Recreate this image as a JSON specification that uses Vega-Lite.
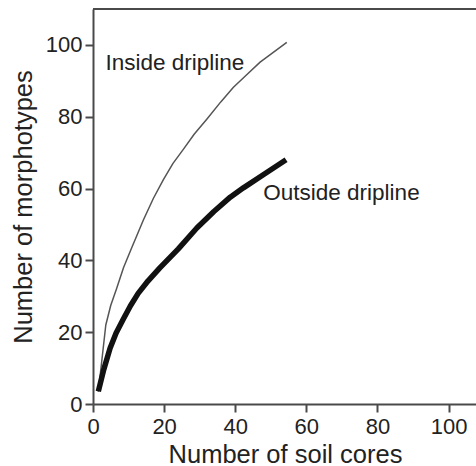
{
  "$schema": "https://vega.github.io/schema/vega-lite/v6.json",
  "width": 384,
  "height": 395,
  "autosize": {"type": "none"},
  "padding": {"left": 93, "top": 9, "right": 0, "bottom": 62},
  "background": "white",
  "config": {
    "view": {"stroke": null},
    "font": "Liberation Sans",
    "axis": {
      "grid": false,
      "domainColor": "#4a4a4a",
      "domainWidth": 2,
      "tickColor": "#4a4a4a",
      "tickWidth": 2,
      "tickSize": 8,
      "labelColor": "#222222",
      "titleColor": "#222222",
      "labelFont": "Liberation Sans",
      "titleFont": "Liberation Sans",
      "labelFontSize": 22,
      "titleFontSize": 25.5,
      "titleFontWeight": "normal"
    }
  },
  "datasets": {
    "curves": [
      {"cores": 1.5, "morphotypes": 3.4, "site": "Inside dripline"},
      {"cores": 3.6, "morphotypes": 22, "site": "Inside dripline"},
      {"cores": 5, "morphotypes": 27.5, "site": "Inside dripline"},
      {"cores": 6.6, "morphotypes": 32, "site": "Inside dripline"},
      {"cores": 8.6, "morphotypes": 38, "site": "Inside dripline"},
      {"cores": 10.8, "morphotypes": 43.3, "site": "Inside dripline"},
      {"cores": 14.2, "morphotypes": 51.3, "site": "Inside dripline"},
      {"cores": 17, "morphotypes": 57.3, "site": "Inside dripline"},
      {"cores": 19.8, "morphotypes": 62.5, "site": "Inside dripline"},
      {"cores": 22.5, "morphotypes": 67, "site": "Inside dripline"},
      {"cores": 25.4, "morphotypes": 70.9, "site": "Inside dripline"},
      {"cores": 28.5, "morphotypes": 75.2, "site": "Inside dripline"},
      {"cores": 32, "morphotypes": 79.3, "site": "Inside dripline"},
      {"cores": 36, "morphotypes": 84.2, "site": "Inside dripline"},
      {"cores": 39.5, "morphotypes": 88.2, "site": "Inside dripline"},
      {"cores": 43, "morphotypes": 91.5, "site": "Inside dripline"},
      {"cores": 47, "morphotypes": 95.2, "site": "Inside dripline"},
      {"cores": 54.5, "morphotypes": 100.7, "site": "Inside dripline"},
      {"cores": 1.5, "morphotypes": 3.5, "site": "Outside dripline"},
      {"cores": 3, "morphotypes": 9.5, "site": "Outside dripline"},
      {"cores": 4.8, "morphotypes": 15.5, "site": "Outside dripline"},
      {"cores": 6.5, "morphotypes": 19.8, "site": "Outside dripline"},
      {"cores": 8.5, "morphotypes": 23.6, "site": "Outside dripline"},
      {"cores": 10.5, "morphotypes": 27.3, "site": "Outside dripline"},
      {"cores": 12.7, "morphotypes": 30.8, "site": "Outside dripline"},
      {"cores": 15.5, "morphotypes": 34.3, "site": "Outside dripline"},
      {"cores": 18.8, "morphotypes": 37.9, "site": "Outside dripline"},
      {"cores": 24, "morphotypes": 43.2, "site": "Outside dripline"},
      {"cores": 29.2, "morphotypes": 49, "site": "Outside dripline"},
      {"cores": 34, "morphotypes": 53.6, "site": "Outside dripline"},
      {"cores": 38.6, "morphotypes": 57.6, "site": "Outside dripline"},
      {"cores": 42.3, "morphotypes": 60.2, "site": "Outside dripline"},
      {"cores": 48, "morphotypes": 63.9, "site": "Outside dripline"},
      {"cores": 54.3, "morphotypes": 68, "site": "Outside dripline"}
    ],
    "labels": [
      {"cores": 3.5, "morphotypes": 95, "text": "Inside dripline"},
      {"cores": 47.9, "morphotypes": 58.8, "text": "Outside dripline"}
    ]
  },
  "layer": [
    {
      "data": {"name": "curves"},
      "mark": {"type": "line", "strokeCap": "butt", "strokeJoin": "round"},
      "encoding": {
        "x": {
          "field": "cores", "type": "quantitative",
          "scale": {"domain": [0, 108], "nice": false},
          "axis": {
            "title": "Number of soil cores",
            "values": [0, 10, 20, 30, 40, 50, 60, 70, 80, 90, 100],
            "labelExpr": "datum.value % 20 === 0 ? datum.label : ''",
            "labelPadding": 4,
            "titlePadding": 5,
            "labelFlush": false
          }
        },
        "y": {
          "field": "morphotypes", "type": "quantitative",
          "scale": {"domain": [0, 110], "nice": false},
          "axis": {
            "title": "Number of morphotypes",
            "values": [0, 10, 20, 30, 40, 50, 60, 70, 80, 90, 100, 110],
            "labelExpr": "datum.value % 20 === 0 && datum.value <= 100 ? datum.label : ''",
            "labelPadding": 3,
            "titlePadding": 9,
            "labelFlush": false
          }
        },
        "detail": {"field": "site"},
        "color": {
          "field": "site", "type": "nominal",
          "scale": {"domain": ["Inside dripline", "Outside dripline"], "range": ["#555555", "#111111"]},
          "legend": null
        },
        "strokeWidth": {
          "field": "site", "type": "nominal",
          "scale": {"domain": ["Inside dripline", "Outside dripline"], "range": [1.5, 5.5]},
          "legend": null
        }
      }
    },
    {
      "data": {"values": [{"y": 110}]},
      "mark": {"type": "rule", "color": "#4a4a4a", "strokeWidth": 2},
      "encoding": {"y": {"field": "y", "type": "quantitative"}}
    },
    {
      "data": {"name": "labels"},
      "mark": {"type": "text", "align": "left", "baseline": "middle", "fontSize": 22.5, "color": "#222222", "font": "Liberation Sans"},
      "encoding": {
        "x": {"field": "cores", "type": "quantitative"},
        "y": {"field": "morphotypes", "type": "quantitative"},
        "text": {"field": "text"}
      }
    }
  ]
}
